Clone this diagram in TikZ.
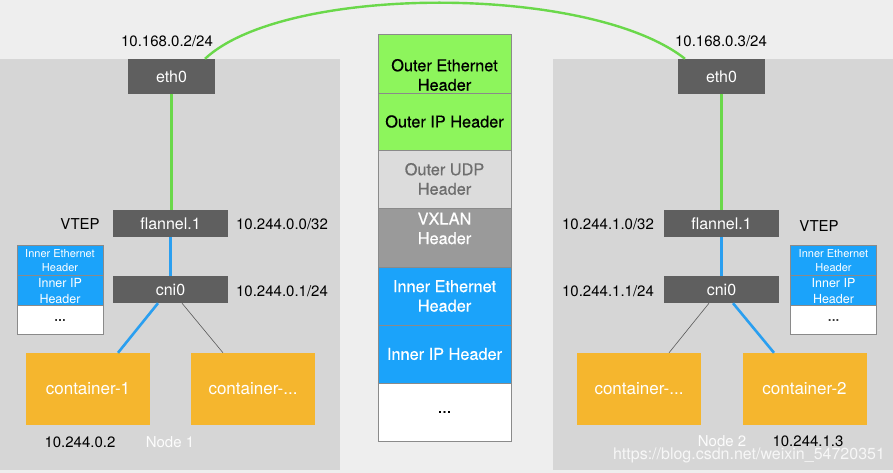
\documentclass[tikz,border=0pt]{standalone}
\usepackage{fontspec}
\setmainfont{TeX Gyre Heros}
\definecolor{bgc}{HTML}{EEEEEE}
\definecolor{panel}{HTML}{D6D6D6}
\definecolor{devc}{HTML}{5F5F5F}
\definecolor{greenl}{HTML}{6AD84A}
\definecolor{greenc}{HTML}{8DF55C}
\definecolor{udpc}{HTML}{DCDCDC}
\definecolor{udpt}{HTML}{6E6E6E}
\definecolor{vxc}{HTML}{9A9A9A}
\definecolor{bluec}{HTML}{1BA3FA}
\definecolor{bluel}{HTML}{2A9FF0}
\definecolor{contc}{HTML}{F5B62E}
\definecolor{cellb}{HTML}{8A8A8A}
\newcommand{\medw}{\addfontfeature{FakeBold=0.5}}
\tikzset{
  dev/.style={fill=devc, text=white, inner sep=0pt, font=\fontsize{16}{19}\selectfont},
  ethbox/.style={dev, minimum width=87pt, minimum height=35pt},
  ifbox/.style={dev, minimum width=115pt, minimum height=27pt},
  cont/.style={fill=contc, text=white, inner sep=0pt, minimum width=124pt, minimum height=72pt, font=\fontsize{17}{20}\selectfont},
  lbl/.style={inner sep=0pt, text=black, font=\fontsize{15}{18}\selectfont},
  hfont/.style={font=\fontsize{16.3}{19.5}\selectfont\medw},
  cell/.style={draw=cellb, line width=0.8pt, inner sep=0pt, minimum width=133pt, align=center, hfont},
  scell/.style={draw=cellb, line width=0.8pt, inner sep=0pt, minimum width=86pt},
  txt/.style={inner sep=0pt, align=center},
  gline/.style={draw=greenl, line width=2.6pt},
  bline/.style={draw=bluel, line width=2.6pt},
  tline/.style={draw=black!65, line width=0.6pt}
}
\begin{document}
\begin{tikzpicture}[x=1pt,y=-1pt]
\useasboundingbox (0,0) rectangle (893,473);
\fill[bgc] (0,0) rectangle (893,473);
% panels
\fill[panel] (0,59) rectangle (340,470);
\fill[panel] (553,59) rectangle (893,470);

% ---------- Node 1 ----------
\node[ethbox] (e1) at (171.5,76.5) {eth0};
\node[ifbox] (f1) at (170.5,223.5) {flannel.1};
\node[ifbox] (c1) at (170.5,289.5) {cni0};
\node[cont] (k1) at (88,389) {container-1};
\node[cont] (k2) at (253,389) {container-...};
\node[lbl] (l1) at (167,41) {10.168.0.2/24};
\node[lbl] (v1) at (80,224) {VTEP};
\node[lbl] (l2) at (282,224) {10.244.0.0/32};
\node[lbl] (l3) at (282,291) {10.244.0.1/24};
\node[lbl] (l4) at (80,442) {10.244.0.2};
\node[lbl, text=white!94!panel] (n1) at (170,442) {Node 1};
% small stack left
\node[scell, fill=bluec, minimum height=30pt] (s1a) at (60,260) {};
\node[scell, fill=bluec, minimum height=30pt] (s1b) at (60,290) {};
\node[scell, fill=white, minimum height=29pt] (s1c) at (60,319.5) {};
\node[txt, text=white, font=\fontsize{11}{14}\selectfont] (t1a) at (60,261) {Inner Ethernet\\Header};
\node[txt, text=white, font=\fontsize{12.5}{15.5}\selectfont] (t1b) at (60,291) {Inner IP\\Header};
\node[txt, text=black, font=\fontsize{14}{15}\selectfont\medw] (t1c) at (60,320) {...};

\draw[gline] (e1.south) -- (e1.south |- f1.north);
\draw[bline] (f1.south) -- (c1.north);
\draw[bline] ([xshift=-12.5pt]c1.south) -- ([xshift=30pt]k1.north);
\draw[tline] ([xshift=11.5pt]c1.south) -- ([xshift=-30pt]k2.north);

% ---------- Node 2 ----------
\node[ethbox] (e2) at (721.5,76.5) {eth0};
\node[ifbox] (f2) at (721.5,223.5) {flannel.1};
\node[ifbox] (c2) at (721.5,289.5) {cni0};
\node[cont] (k3) at (639,389) {container-...};
\node[cont] (k4) at (804.5,389) {container-2};
\node[lbl] (r1) at (721,41) {10.168.0.3/24};
\node[lbl] (v2) at (819,226) {VTEP};
\node[lbl] (r2) at (608,224) {10.244.1.0/32};
\node[lbl] (r3) at (608,291) {10.244.1.1/24};
\node[lbl] (r4) at (808,441) {10.244.1.3};
\node[lbl, text=white!94!panel] (n2) at (722,441) {Node 2};
% small stack right
\node[scell, fill=bluec, minimum height=30pt] (s2a) at (833.5,260) {};
\node[scell, fill=bluec, minimum height=30pt] (s2b) at (833.5,290) {};
\node[scell, fill=white, minimum height=29pt] (s2c) at (833.5,319.5) {};
\node[txt, text=white, font=\fontsize{11}{14}\selectfont] (t2a) at (833.5,261) {Inner Ethernet\\Header};
\node[txt, text=white, font=\fontsize{12.5}{15.5}\selectfont] (t2b) at (833.5,291) {Inner IP\\Header};
\node[txt, text=black, font=\fontsize{14}{15}\selectfont\medw] (t2c) at (833.5,320) {...};

\draw[gline] (e2.south) -- (e2.south |- f2.north);
\draw[bline] (f2.south) -- (c2.north);
\draw[tline] ([xshift=-12.5pt]c2.south) -- ([xshift=30pt]k3.north);
\draw[bline] ([xshift=11.5pt]c2.south) -- ([xshift=-30.5pt]k4.north);

% ---------- Middle packet ----------
\node[cell, fill=greenc, minimum height=59pt] (m1) at (444.5,63.5) {};
\node[cell, fill=greenc, minimum height=57pt] (m2) at (444.5,121.5) {Outer IP Header};
\node[cell, fill=udpc, text=udpt, minimum height=58pt] (m3) at (444.5,179) {Outer UDP\\Header};
\node[cell, fill=vxc, minimum height=59pt] (m4) at (444.5,237.5) {};
\node[cell, fill=bluec, text=white, minimum height=58pt] (m5) at (444.5,296) {Inner Ethernet\\Header};
\node[cell, fill=bluec, text=white, minimum height=58pt] (m6) at (444.5,354) {Inner IP Header};
\node[cell, fill=white, minimum height=58pt] (m7) at (444.5,412) {...};
\node[txt, hfont] (m1t) at (444.5,75) {Outer Ethernet\\Header};
\node[txt, hfont, text=white] (m4t) at (444.5,228.5) {VXLAN\\Header};

% ---------- link between hosts ----------
\draw[gline, line width=2.4pt] ([xshift=33.5pt]e1.north) .. controls (285,-16) and (590,-16) .. ([xshift=-36.5pt]e2.north);

% watermark
\node[inner sep=0pt, text=white, opacity=0.8, font=\fontsize{16}{18}\selectfont] (wm) at (749,455) {https://blog.csdn.net/weixin\_54720351};
\end{tikzpicture}
\end{document}
